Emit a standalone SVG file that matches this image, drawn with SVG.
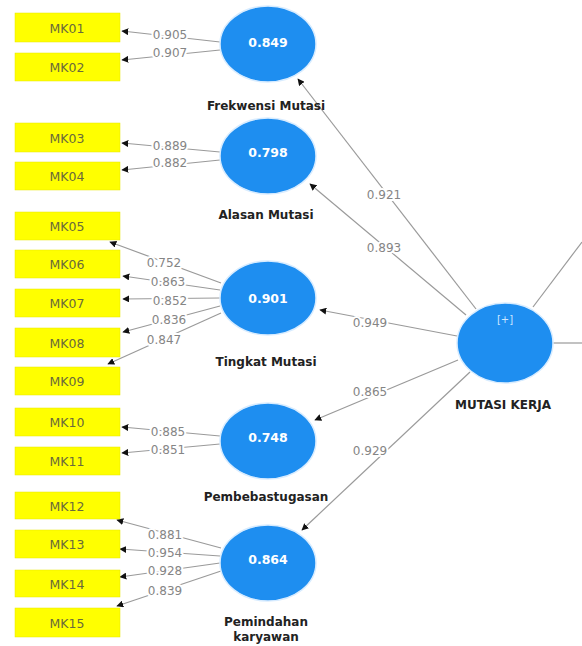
<svg xmlns="http://www.w3.org/2000/svg" width="582" height="646" viewBox="0 0 582 646">
<defs>
<marker id="ah" viewBox="0 0 10 10" refX="9" refY="5" markerWidth="7" markerHeight="7" orient="auto" markerUnits="userSpaceOnUse">
<path d="M0,0 L10,5 L0,10 z" fill="#111"/>
</marker>
</defs>
<style>
.box{fill:#ffff00;stroke:#e6e600;stroke-width:0.5}
.bt{font-family:"DejaVu Sans",Verdana,sans-serif;font-size:12.5px;fill:#6a6a3c;text-anchor:middle;dominant-baseline:central}
.lv{fill:#1e8ef0;stroke:#d8ecff;stroke-width:1.5}
.vt{font-family:"DejaVu Sans",Verdana,sans-serif;font-size:12.5px;font-weight:bold;fill:#fff;text-anchor:middle;dominant-baseline:central}
.nl{font-family:"DejaVu Sans",Verdana,sans-serif;font-size:12px;font-weight:bold;fill:#222;text-anchor:middle}
.ln{stroke:#9a9a9a;stroke-width:1.2;fill:none;marker-end:url(#ah)}
.ln2{stroke:#9a9a9a;stroke-width:1.2;fill:none}
.lb{font-family:"DejaVu Sans",Verdana,sans-serif;font-size:12px;fill:#858585;text-anchor:middle;dominant-baseline:central;stroke:#fff;stroke-width:4px;paint-order:stroke;stroke-linejoin:round}
</style>
<rect width="582" height="646" fill="#fff"/>
<g id="connectors">
<line class="ln2" x1="533" y1="307" x2="582" y2="242"/>
<line class="ln2" x1="553" y1="343" x2="582" y2="343"/>
<line class="ln" x1="476" y1="309" x2="298" y2="79"/>
<line class="ln" x1="466" y1="315" x2="310" y2="184"/>
<line class="ln" x1="457" y1="336" x2="320" y2="310"/>
<line class="ln" x1="458" y1="360" x2="315" y2="420"/>
<line class="ln" x1="470" y1="372" x2="302" y2="530"/>
<line class="ln" x1="220" y1="42" x2="122" y2="31"/>
<line class="ln" x1="220" y1="50" x2="122" y2="60"/>
<line class="ln" x1="220" y1="152" x2="122" y2="143"/>
<line class="ln" x1="220" y1="160" x2="122" y2="170"/>
<line class="ln" x1="221" y1="283" x2="110" y2="242"/>
<line class="ln" x1="220" y1="290" x2="123" y2="276"/>
<line class="ln" x1="220" y1="298" x2="123" y2="299"/>
<line class="ln" x1="220" y1="306" x2="123" y2="332"/>
<line class="ln" x1="221" y1="313" x2="108" y2="364"/>
<line class="ln" x1="220" y1="436" x2="122" y2="427"/>
<line class="ln" x1="220" y1="444" x2="122" y2="453"/>
<line class="ln" x1="221" y1="548" x2="117" y2="520"/>
<line class="ln" x1="220" y1="556" x2="120" y2="549"/>
<line class="ln" x1="220" y1="563" x2="120" y2="577"/>
<line class="ln" x1="221" y1="571" x2="117" y2="606"/>
<text class="lb" x="384" y="195">0.921</text>
<text class="lb" x="384" y="248">0.893</text>
<text class="lb" x="370" y="323">0.949</text>
<text class="lb" x="370" y="392">0.865</text>
<text class="lb" x="370" y="451">0.929</text>
<text class="lb" x="170" y="35">0.905</text>
<text class="lb" x="170" y="53">0.907</text>
<text class="lb" x="170" y="146">0.889</text>
<text class="lb" x="170" y="163">0.882</text>
<text class="lb" x="164" y="263">0.752</text>
<text class="lb" x="168" y="282">0.863</text>
<text class="lb" x="170" y="301">0.852</text>
<text class="lb" x="169" y="320">0.836</text>
<text class="lb" x="164" y="340">0.847</text>
<text class="lb" x="168" y="432">0.885</text>
<text class="lb" x="168" y="450">0.851</text>
<text class="lb" x="165" y="535">0.881</text>
<text class="lb" x="165" y="553">0.954</text>
<text class="lb" x="165" y="571">0.928</text>
<text class="lb" x="165" y="591">0.839</text>
</g>
<g id="MK01"><rect class="box" x="15" y="13" width="105" height="29"/><text class="bt" x="67" y="28">MK01</text></g>
<g id="MK02"><rect class="box" x="15" y="53" width="105" height="28"/><text class="bt" x="67" y="67">MK02</text></g>
<g id="MK03"><rect class="box" x="15" y="123" width="105" height="29"/><text class="bt" x="67" y="138">MK03</text></g>
<g id="MK04"><rect class="box" x="15" y="162" width="105" height="28"/><text class="bt" x="67" y="176">MK04</text></g>
<g id="MK05"><rect class="box" x="15" y="212" width="105" height="28"/><text class="bt" x="67" y="226">MK05</text></g>
<g id="MK06"><rect class="box" x="15" y="250" width="105" height="28"/><text class="bt" x="67" y="264">MK06</text></g>
<g id="MK07"><rect class="box" x="15" y="289" width="105" height="28"/><text class="bt" x="67" y="303">MK07</text></g>
<g id="MK08"><rect class="box" x="15" y="328" width="105" height="29"/><text class="bt" x="67" y="343">MK08</text></g>
<g id="MK09"><rect class="box" x="15" y="367" width="105" height="28"/><text class="bt" x="67" y="381">MK09</text></g>
<g id="MK10"><rect class="box" x="15" y="408" width="105" height="28"/><text class="bt" x="67" y="422">MK10</text></g>
<g id="MK11"><rect class="box" x="15" y="447" width="105" height="28"/><text class="bt" x="67" y="461">MK11</text></g>
<g id="MK12"><rect class="box" x="15" y="492" width="105" height="27"/><text class="bt" x="67" y="506">MK12</text></g>
<g id="MK13"><rect class="box" x="15" y="530" width="105" height="28"/><text class="bt" x="67" y="544">MK13</text></g>
<g id="MK14"><rect class="box" x="15" y="570" width="105" height="27"/><text class="bt" x="67" y="584">MK14</text></g>
<g id="MK15"><rect class="box" x="15" y="608" width="105" height="29"/><text class="bt" x="67" y="623">MK15</text></g>
<g id="frekwensi"><ellipse class="lv" cx="268" cy="44" rx="48" ry="38"/><text class="vt" x="268" y="42">0.849</text><text class="nl" x="266" y="110">Frekwensi Mutasi</text></g>
<g id="alasan"><ellipse class="lv" cx="268" cy="156" rx="48" ry="38"/><text class="vt" x="268" y="152">0.798</text><text class="nl" x="266" y="219">Alasan Mutasi</text></g>
<g id="tingkat"><ellipse class="lv" cx="268" cy="298" rx="48" ry="37"/><text class="vt" x="268" y="298">0.901</text><text class="nl" x="266" y="366">Tingkat Mutasi</text></g>
<g id="pembebastugasan"><ellipse class="lv" cx="268" cy="441" rx="48" ry="38"/><text class="vt" x="268" y="437">0.748</text><text class="nl" x="266" y="501">Pembebastugasan</text></g>
<g id="pemindahan"><ellipse class="lv" cx="268" cy="563" rx="48" ry="38"/><text class="vt" x="268" y="559">0.864</text><text class="nl" x="266" y="626">Pemindahan</text><text class="nl" x="266" y="641">karyawan</text></g>
<g id="mutasi-kerja"><ellipse class="lv" cx="505" cy="343" rx="48" ry="40"/><text class="vt" x="505" y="319" style="font-weight:normal;font-size:10px;fill:#cde6ff">[+]</text><text class="nl" x="503" y="409">MUTASI KERJA</text></g>
</svg>
